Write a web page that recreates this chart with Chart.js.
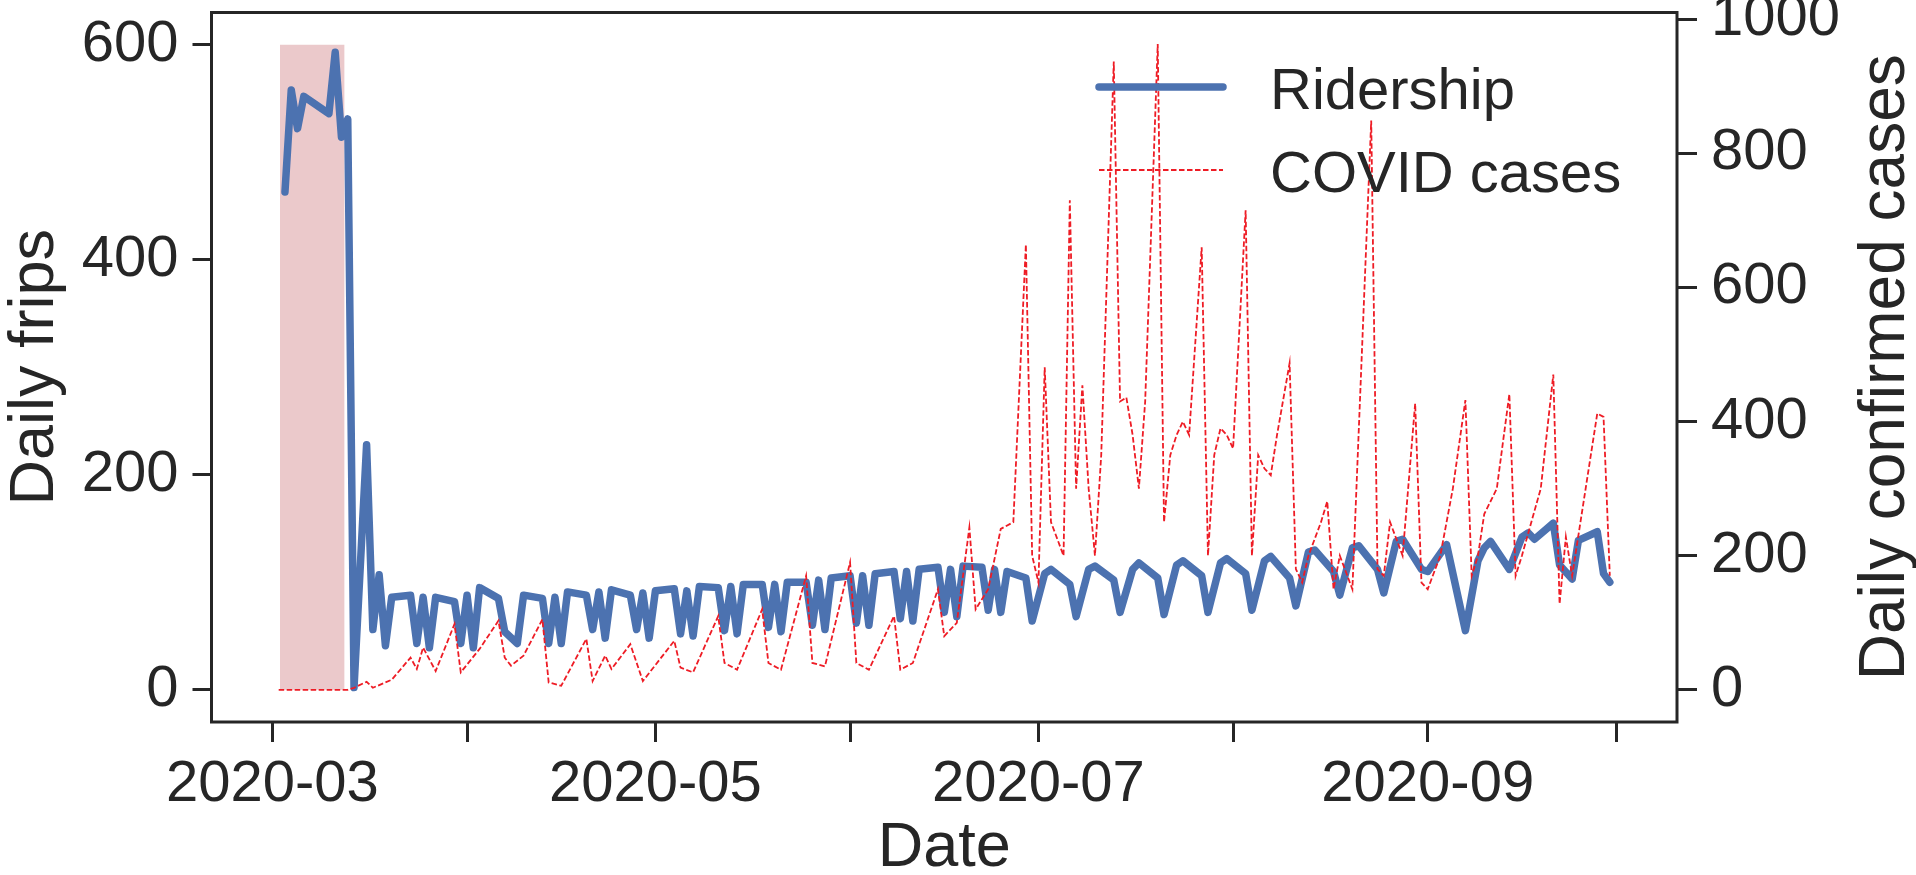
<!DOCTYPE html>
<html>
<head>
<meta charset="utf-8">
<script src="https://cdn.jsdelivr.net/npm/chart.js@4.4.1/dist/chart.umd.min.js"></script>
<style>
  html, body { margin: 0; padding: 0; background: #ffffff; }
  #wrap { width: 1916px; height: 875px; }
</style>
</head>
<body>
<div id="wrap"><canvas id="chart" width="1916" height="875"></canvas></div>
<script>
// ---- data -------------------------------------------------------------
const YEAR = '2020-';
const originDate = '2020-03-01';

// month ticks on the date axis and their labels (every other month labelled)
const monthTicks = ['03-01', '04-01', '05-01', '06-01', '07-01', '08-01', '09-01', '10-01'];
const monthLabels = ['2020-03', '', '2020-05', '', '2020-07', '', '2020-09', ''];

const tripTicks = [0, 200, 400, 600];
const caseTicks = [0, 200, 400, 600, 800, 1000];

// shaded period before the stay-at-home order
const shadeFrom = '03-02T05:00';
const shadeTo = '03-12T12:00';
const shadeTop = 600;

// daily trips (left axis)
const rideDates = [
  '03-03','03-04','03-05','03-06','03-10','03-11','03-12','03-13','03-14','03-16',
  '03-17','03-18','03-19','03-20','03-23','03-24','03-25','03-26','03-27','03-30',
  '03-31','04-01','04-02','04-03','04-06','04-07','04-09','04-10','04-13','04-14',
  '04-15','04-16','04-17','04-20','04-21','04-22','04-23','04-24','04-27','04-28',
  '04-29','04-30','05-01','05-04','05-05','05-06','05-07','05-08','05-11','05-12',
  '05-13','05-14','05-15','05-18','05-19','05-20','05-21','05-22','05-25','05-26',
  '05-27','05-28','05-29','06-01','06-02','06-03','06-04','06-05','06-08','06-09',
  '06-10','06-11','06-12','06-15','06-16','06-17','06-18','06-19','06-22','06-23',
  '06-24','06-25','06-26','06-29','06-30','07-02','07-03','07-06','07-07','07-09',
  '07-10','07-13','07-14','07-16','07-17','07-20','07-21','07-23','07-24','07-27',
  '07-28','07-30','07-31','08-03','08-04','08-06','08-07','08-10','08-11','08-13',
  '08-14','08-17','08-18','08-20','08-21','08-24','08-25','08-27','08-28','08-31',
  '09-01','09-04','09-07','09-09','09-10','09-11','09-14','09-16','09-17','09-18',
  '09-21','09-22','09-24','09-25','09-28','09-29','09-30'
];
const rideTrips = [
  463, 558, 522, 552, 536, 593, 514, 531, 2, 228,
  56, 107, 41, 86, 88, 43, 86, 39, 86, 82,
  43, 88, 39, 95, 85, 54, 43, 88, 85, 43,
  86, 43, 91, 88, 56, 91, 48, 93, 88, 56,
  90, 48, 92, 94, 52, 92, 50, 96, 95, 55,
  96, 52, 98, 98, 58, 98, 54, 100, 100, 60,
  102, 56, 104, 106, 62, 106, 60, 108, 110, 66,
  110, 64, 112, 114, 72, 112, 68, 115, 114, 74,
  112, 72, 110, 104, 64, 108, 112, 98, 68, 112,
  115, 102, 72, 112, 118, 104, 70, 116, 120, 106,
  72, 118, 122, 108, 74, 120, 124, 104, 78, 128,
  130, 110, 88, 132, 134, 112, 90, 138, 140, 112,
  110, 135, 55, 120, 132, 138, 112, 142, 146, 140,
  155, 116, 103, 139, 147, 108, 100
];

// daily confirmed cases (right axis)
const caseDates = [
  '03-02','03-13','03-14','03-16','03-17','03-20','03-23','03-24','03-25','03-27',
  '03-30','03-31','04-03','04-06','04-07','04-08','04-10','04-13','04-14','04-16',
  '04-20','04-21','04-23','04-24','04-27','04-29','05-04','05-05','05-07','05-11',
  '05-12','05-14','05-18','05-19','05-21','05-25','05-26','05-28','06-01','06-02',
  '06-04','06-08','06-09','06-11','06-15','06-16','06-18','06-20','06-21','06-23',
  '06-25','06-27','06-29','06-30','07-01','07-02','07-03','07-05','07-06','07-07',
  '07-08','07-09','07-10','07-11','07-13','07-14','07-15','07-16','07-17','07-18',
  '07-20','07-21','07-22','07-23','07-24','07-25','07-27','07-28','07-29','07-30',
  '07-31','08-01','08-03','08-04','08-05','08-06','08-07','08-08','08-10','08-11',
  '08-12','08-13','08-15','08-16','08-17','08-18','08-20','08-23','08-24','08-25',
  '08-26','08-28','08-30','08-31','09-01','09-03','09-05','09-07','09-08','09-09',
  '09-10','09-12','09-14','09-15','09-16','09-19','09-21','09-22','09-23','09-24',
  '09-28','09-29','09-30'
];
const caseCounts = [
  0, 0, 3, 12, 3, 15, 48, 31, 63, 28,
  98, 26, 61, 103, 48, 36, 51, 105, 11, 6,
  76, 13, 51, 31, 68, 13, 73, 33, 26, 110,
  40, 30, 120, 40, 30, 170, 40, 35, 190, 40,
  30, 110, 30, 40, 150, 80, 100, 242, 120, 150,
  240, 250, 664, 200, 160, 481, 250, 200, 730, 300,
  454, 300, 200, 350, 937, 430, 436, 380, 300, 430,
  963, 250, 350, 380, 400, 380, 660, 200, 350, 390,
  380, 360, 715, 200, 350, 330, 320, 380, 487, 180,
  160, 200, 250, 281, 150, 200, 150, 849, 180, 170,
  250, 200, 427, 160, 150, 200, 300, 432, 170, 200,
  262, 300, 441, 170, 200, 300, 470, 128, 228, 170,
  412, 407, 170
];

// ---- helpers ----------------------------------------------------------
const DAY_MS = 86400000;
function dayOf(md) {
  const s = YEAR + md;
  const iso = s.length > 10 ? s + 'Z' : s + 'T00:00Z';
  return (Date.parse(iso) - Date.parse(originDate + 'T00:00Z')) / DAY_MS;
}
const pairs = (dates, vals) => dates.map((d, i) => ({ x: dayOf(d), y: vals[i] }));

const INK = '#262626';
const FONT = "'Liberation Sans', Arial, Helvetica, sans-serif";
const TICK_SIZE = 58;
const TITLE_SIZE = 63;

// ---- plugins: frame, titles, legend ----------------------------------
const framePlugin = {
  id: 'frame',
  afterDatasetsDraw(chart) {
    const { ctx, chartArea: a } = chart;
    ctx.save();
    ctx.strokeStyle = INK;
    ctx.lineWidth = 3;
    ctx.strokeRect(a.left, a.top, a.right - a.left, a.bottom - a.top);
    ctx.restore();
  }
};

const titlePlugin = {
  id: 'axisTitles',
  afterDraw(chart) {
    const { ctx, chartArea: a } = chart;
    ctx.save();
    ctx.fillStyle = INK;
    ctx.font = `${TITLE_SIZE}px ${FONT}`;
    ctx.textAlign = 'center';
    ctx.textBaseline = 'alphabetic';
    const midY = (a.top + a.bottom) / 2;
    // bottom title
    ctx.fillText('Date', (a.left + a.right) / 2, 866);
    // left title
    ctx.save();
    ctx.translate(53, midY);
    ctx.rotate(-Math.PI / 2);
    ctx.fillText('Daily frips', 0, 0);
    ctx.restore();
    // right title
    ctx.save();
    ctx.font = `${TITLE_SIZE + 1}px ${FONT}`;
    ctx.translate(1904, midY);
    ctx.rotate(-Math.PI / 2);
    ctx.fillText('Daily confirmed cases', 0, 0);
    ctx.restore();
    ctx.restore();
  }
};

const legendPlugin = {
  id: 'lineLegend',
  afterDatasetsDraw(chart) {
    const { ctx } = chart;
    const items = chart.data.datasets.filter(ds => ds.inLegend);
    const x0 = 1099, x1 = 1223, textX = 1270;
    const rowY = [87, 170];
    ctx.save();
    ctx.font = `${TICK_SIZE}px ${FONT}`;
    ctx.textAlign = 'left';
    ctx.textBaseline = 'middle';
    items.forEach((ds, i) => {
      const y = rowY[i];
      ctx.save();
      ctx.strokeStyle = ds.borderColor;
      ctx.lineWidth = ds.borderWidth;
      ctx.lineCap = ds.borderCapStyle || 'butt';
      ctx.setLineDash(ds.borderDash || []);
      ctx.beginPath();
      ctx.moveTo(x0, y);
      ctx.lineTo(x1, y);
      ctx.stroke();
      ctx.restore();
      ctx.fillStyle = INK;
      ctx.fillText(ds.label, textX, y + 6);
    });
    ctx.restore();
  }
};

// ---- chart ------------------------------------------------------------
const axisTicks = (values) => (scale) => { scale.ticks = values.map(v => ({ value: v })); };
const tickFont = { family: FONT, size: TICK_SIZE };
const plainNumber = (v) => String(v);

new Chart(document.getElementById('chart'), {
  type: 'line',
  data: {
    datasets: [
      {
        label: 'shade',
        data: [{ x: dayOf(shadeFrom), y: shadeTop }, { x: dayOf(shadeTo), y: shadeTop }],
        yAxisID: 'y',
        borderWidth: 0,
        borderColor: 'rgba(0,0,0,0)',
        backgroundColor: '#ebc9cb',
        fill: 'origin',
        pointRadius: 0,
        order: 3
      },
      {
        label: 'Ridership',
        inLegend: true,
        data: pairs(rideDates, rideTrips),
        yAxisID: 'y',
        borderColor: '#4c72b0',
        borderWidth: 7.5,
        borderCapStyle: 'round',
        borderJoinStyle: 'round',
        pointRadius: 0,
        tension: 0,
        order: 2
      },
      {
        label: 'COVID cases',
        inLegend: true,
        data: pairs(caseDates, caseCounts),
        yAxisID: 'y1',
        borderColor: '#ee1c25',
        borderWidth: 1.8,
        borderDash: [5.5, 2.5],
        pointRadius: 0,
        tension: 0,
        order: 1
      }
    ]
  },
  options: {
    responsive: false,
    animation: false,
    devicePixelRatio: 1,
    layout: { padding: { top: 12.5, left: 0, right: 0, bottom: 0 } },
    plugins: { legend: { display: false }, tooltip: { enabled: false } },
    scales: {
      x: {
        type: 'linear',
        min: -9.7,
        max: 223.7,
        afterBuildTicks: axisTicks(monthTicks.map(dayOf)),
        afterFit: (s) => { s.height = 875 - 722; s.paddingLeft = 0; s.paddingRight = 0; },
        ticks: {
          autoSkip: false, maxRotation: 0, color: INK, font: tickFont, padding: 8,
          callback: (v, i) => monthLabels[i]
        },
        grid: { drawOnChartArea: false, drawTicks: true, tickLength: 20, tickWidth: 3, tickColor: INK },
        border: { display: false }
      },
      y: {
        position: 'left',
        min: -30,
        max: 630,
        afterBuildTicks: axisTicks(tripTicks),
        afterFit: (s) => { s.width = 211.5; s.paddingTop = 0; s.paddingBottom = 0; },
        ticks: { color: INK, font: tickFont, padding: 14, callback: plainNumber },
        grid: { drawOnChartArea: false, drawTicks: true, tickLength: 19, tickWidth: 3, tickColor: INK },
        border: { display: false }
      },
      y1: {
        position: 'right',
        min: -48,
        max: 1010,
        afterBuildTicks: axisTicks(caseTicks),
        afterFit: (s) => { s.width = 1916 - 1677; s.paddingTop = 0; s.paddingBottom = 0; },
        ticks: { color: INK, font: tickFont, padding: 14, callback: plainNumber },
        grid: { drawOnChartArea: false, drawTicks: true, tickLength: 20, tickWidth: 3, tickColor: INK },
        border: { display: false }
      }
    }
  },
  plugins: [framePlugin, legendPlugin, titlePlugin]
});
</script>
</body>
</html>
